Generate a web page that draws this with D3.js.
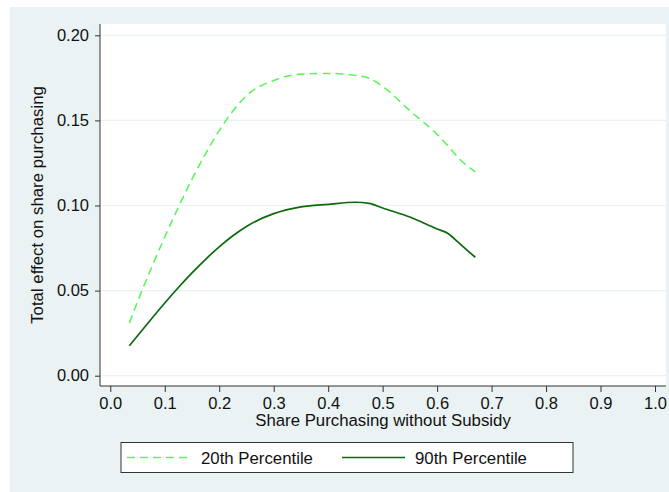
<!DOCTYPE html>
<html>
<head>
<meta charset="utf-8">
<script src="https://cdn.jsdelivr.net/npm/d3@7"></script>
<style>
  body { margin: 0; background: #ffffff; }
  text { font-family: "Liberation Sans", Arial, sans-serif; fill: #111; }
</style>
</head>
<body>
<div id="chart"></div>
<script>
// share purchasing without subsidy (x) and total effect for each percentile
var share = [0.035, 0.05, 0.075, 0.1, 0.125, 0.15, 0.175, 0.2, 0.225, 0.25, 0.3, 0.35, 0.4, 0.45, 0.475, 0.5, 0.55, 0.6, 0.62, 0.64, 0.67];
var p20 = [0.031, 0.0435, 0.063, 0.0815, 0.099, 0.1155, 0.1305, 0.144, 0.1555, 0.1645, 0.1735, 0.1772, 0.1776, 0.1764, 0.1748, 0.170, 0.1557, 0.1418, 0.135, 0.1276, 0.1198];
var p90 = [0.0176, 0.0235, 0.0332, 0.0427, 0.0518, 0.0604, 0.0684, 0.0757, 0.0822, 0.0877, 0.0952, 0.0992, 0.1007, 0.1019, 0.1013, 0.0985, 0.0932, 0.0862, 0.0836, 0.078, 0.0696];
var xTicks = [0, 0.1, 0.2, 0.3, 0.4, 0.5, 0.6, 0.7, 0.8, 0.9, 1.0];
var yTicks = [0, 0.05, 0.10, 0.15, 0.20];
var seriesNames = ["20th Percentile", "90th Percentile"];

var width = 669, height = 492;
var plot = { left: 100, top: 24, right: 666, bottom: 386 };

var svg = d3.select("#chart").append("svg")
    .attr("width", width)
    .attr("height", height);

// outer background
svg.append("rect")
    .attr("x", 10).attr("y", 7)
    .attr("width", width - 10).attr("height", height - 7)
    .attr("fill", "#eaf2f3");

svg.append("rect")
    .attr("x", plot.left).attr("y", plot.top)
    .attr("width", plot.right - plot.left).attr("height", plot.bottom - plot.top)
    .attr("fill", "#ffffff");

var x = d3.scaleLinear().domain([0, 1]).range([110.3, 655]);
var y = d3.scaleLinear().domain([0, 0.2]).range([375.7, 35.3]);

// gridlines
svg.append("g")
    .selectAll("line")
    .data(yTicks)
    .enter().append("line")
    .attr("x1", plot.left).attr("x2", plot.right)
    .attr("y1", function (d) { return y(d); })
    .attr("y2", function (d) { return y(d); })
    .attr("stroke", "#eaf2f3")
    .attr("stroke-width", 1.2);

// y axis
var yAxis = svg.append("g")
    .attr("transform", "translate(" + plot.left + ",0)")
    .call(d3.axisLeft(y).tickValues(yTicks).tickFormat(d3.format(".2f")).tickSize(5).tickPadding(6));
yAxis.select(".domain").remove();
yAxis.append("line")
    .attr("x1", 0).attr("x2", 0)
    .attr("y1", plot.top).attr("y2", plot.bottom)
    .attr("stroke", "#333");
yAxis.selectAll(".tick line").attr("stroke", "#333");
yAxis.selectAll(".tick text")
    .attr("font-size", "16.5px")
    .attr("font-family", "Liberation Sans, Arial, sans-serif")
    .attr("fill", "#111");

// x axis
var xAxis = svg.append("g")
    .attr("transform", "translate(0," + plot.bottom + ")")
    .call(d3.axisBottom(x).tickValues(xTicks).tickFormat(d3.format(".1f")).tickSize(6).tickPadding(5));
xAxis.select(".domain").remove();
xAxis.append("line")
    .attr("x1", plot.left).attr("x2", plot.right)
    .attr("y1", 0).attr("y2", 0)
    .attr("stroke", "#333");
xAxis.selectAll(".tick line").attr("stroke", "#333");
xAxis.selectAll(".tick text")
    .attr("font-size", "16.5px")
    .attr("font-family", "Liberation Sans, Arial, sans-serif")
    .attr("fill", "#111");

// axis titles
svg.append("text")
    .attr("x", (plot.left + plot.right) / 2)
    .attr("y", 426)
    .attr("text-anchor", "middle")
    .attr("font-size", "16.8px")
    .text("Share Purchasing without Subsidy");

svg.append("text")
    .attr("transform", "translate(43," + (plot.top + plot.bottom) / 2 + ") rotate(-90)")
    .attr("text-anchor", "middle")
    .attr("font-size", "16.8px")
    .text("Total effect on share purchasing");

// lines
var line = d3.line()
    .curve(d3.curveMonotoneX)
    .x(function (d) { return x(d[0]); })
    .y(function (d) { return y(d[1]); });

svg.append("path")
    .datum(d3.zip(share, p20))
    .attr("fill", "none")
    .attr("stroke", "#5cf55c")
    .attr("stroke-width", 1.6)
    .attr("stroke-dasharray", "8,5")
    .attr("d", line);

svg.append("path")
    .datum(d3.zip(share, p90))
    .attr("fill", "none")
    .attr("stroke", "#0b6a0b")
    .attr("stroke-width", 1.7)
    .attr("d", line);

// legend
var lg = svg.append("g");
lg.append("rect")
    .attr("x", 121).attr("y", 442.5)
    .attr("width", 452).attr("height", 30)
    .attr("fill", "#ffffff")
    .attr("stroke", "#333");

lg.append("line")
    .attr("x1", 127).attr("x2", 191).attr("y1", 457.5).attr("y2", 457.5)
    .attr("stroke", "#5cf55c").attr("stroke-width", 1.6).attr("stroke-dasharray", "8,5");
lg.append("text")
    .attr("x", 201).attr("y", 463.5)
    .attr("font-size", "16.8px")
    .text(seriesNames[0]);

lg.append("line")
    .attr("x1", 342).attr("x2", 405).attr("y1", 457.5).attr("y2", 457.5)
    .attr("stroke", "#0b6a0b").attr("stroke-width", 1.7);
lg.append("text")
    .attr("x", 415).attr("y", 463.5)
    .attr("font-size", "16.8px")
    .text(seriesNames[1]);
</script>
</body>
</html>
